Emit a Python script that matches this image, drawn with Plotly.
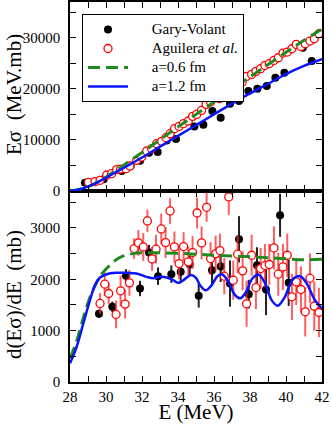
import plotly.graph_objects as go

# ---- top panel: E*sigma (MeV.mb) ----
gv_e = [28.83, 29.87, 30.87, 31.37, 31.89, 32.39, 32.87, 33.37, 33.89, 34.91, 35.41,
        35.91, 36.37, 36.89, 37.39, 37.91, 38.41, 38.93, 39.41, 39.91, 40.93, 41.43]
gv_esig = [1630, 2280, 3910, 4890, 5940, 7500, 7630, 9900, 10180, 12650, 12980,
           15660, 14350, 17090, 17610, 19570, 20030, 20550, 22180, 23160, 28050, 25440]

ag_e = [29.02, 29.39, 29.67, 30.04, 30.31, 30.59, 30.81, 31.11, 31.33, 31.70, 31.98,
        32.26, 32.54, 32.81, 33.09, 33.33, 33.56, 33.80, 34.06, 34.30, 34.57, 34.81,
        35.04, 35.31, 35.56, 35.81, 36.06, 36.30, 36.56, 36.80, 37.07, 37.31, 37.57,
        37.81, 38.09, 38.33, 38.59, 38.83, 39.07, 39.33, 39.57, 39.83, 40.07, 40.33,
        40.57, 40.83, 41.07, 41.33, 41.57, 41.83]
ag_esig = [1700, 1830, 2090, 3130, 3390, 4180, 4300, 4370, 4890, 6000, 6650,
           7830, 8280, 9260, 9720, 10440, 11220, 12200, 12650, 13180, 13700, 14610,
           15000, 15790, 16960, 17420, 18390, 18070, 19370, 20220, 20480, 21660, 21330,
           22440, 22830, 23420, 23940, 24590, 24920, 25570, 26090, 27000, 27200, 27850,
           28700, 28310, 28830, 29350, 29810, 30790]

curve_e = [28, 28.5, 29, 29.5, 30, 30.5, 31, 32, 33, 34, 35, 36, 37, 38, 39, 40, 41, 42]
a06_esig = [0, 300, 850, 1700, 2750, 3900, 5100, 7550, 10050, 12550, 15000, 17450,
            19900, 22350, 24750, 27150, 29500, 31700]
a12_esig = [0, 300, 850, 1650, 2600, 3600, 4550, 6550, 8700, 10800, 12900, 15000,
            17100, 19100, 21000, 22900, 24500, 25800]

# ---- bottom panel: d(E sigma)/dE (mb) ----
gvd_e = [29.61, 30.35, 31.11, 31.89, 32.39, 32.89, 33.63, 34.15, 34.65, 35.15, 35.89,
         36.37, 36.89, 37.39, 37.93, 38.39, 38.89, 39.67, 40.15]
gvd = [1329, 1465, 2067, 1821, 2521, 2061, 2100, 2145, 2294, 1679, 2178,
       2249, 1918, 2780, 1711, 2275, 1802, 3247, 1931]
gvd_err = [80, 100, 130, 150, 150, 170, 170, 200, 220, 230, 270,
           300, 450, 450, 280, 350, 500, 420, 450]

agd_e = [29.67, 29.93, 30.15, 30.56, 30.81, 31.06, 31.30, 31.56, 31.80, 32.07, 32.30,
         32.56, 32.78, 33.07, 33.31, 33.56, 33.80, 34.06, 34.31, 34.57, 34.81, 35.06,
         35.31, 35.59, 35.81, 36.09, 36.33, 36.57, 36.82, 37.07, 37.31, 37.59, 37.81,
         38.09, 38.33, 38.59, 38.83, 39.07, 39.33, 39.57, 39.83, 40.07, 40.33, 40.57,
         40.83, 41.07, 41.33, 41.57, 41.83]
agd = [1530, 1905, 1724, 1316, 1776, 1517, 1931, 2599, 2709, 2631, 3137,
       2398, 2586, 2981, 2715, 3331, 2631, 2307, 2638, 2340, 2521, 3292,
       2709, 3402, 2404, 2501, 2560, 2061, 3605, 1983, 2489, 2165, 1523,
       2469, 1840, 2210, 2268, 2288, 2612, 2100, 2242, 2469, 1659, 1951,
       1802, 1367, 2022, 1478, 1354]
agd_err = [200, 230, 200, 270, 300, 280, 250, 200, 250, 270, 220,
           230, 280, 300, 300, 250, 300, 300, 280, 300, 320, 300,
           320, 280, 320, 350, 330, 350, 350, 380, 370, 380, 450,
           400, 420, 400, 420, 400, 420, 420, 450, 420, 450, 450,
           450, 480, 480, 480, 480]

a06d_e = [28.0, 28.37, 28.74, 29.11, 29.5, 29.8, 30.2, 30.6, 31.0, 31.5, 32, 33, 34,
          35, 36, 37, 38, 39, 40, 41, 42]
a06d = [460, 800, 1250, 1650, 1950, 2120, 2270, 2390, 2460, 2500, 2515, 2515, 2505,
        2490, 2470, 2455, 2440, 2420, 2400, 2380, 2390]

a12d_e = [28.0, 28.37, 28.74, 29.11, 29.39, 29.67, 30.04, 30.59, 31.15, 31.70, 32.26,
          32.63, 33.0, 33.37, 33.74, 34.02, 34.30, 34.72, 35.0, 35.22, 35.54, 35.87,
          36.19, 36.46, 36.80, 37.17, 37.46, 37.78, 38.13, 38.46, 38.83, 39.20, 39.54,
          39.94, 40.37, 40.78, 41.15, 41.61, 42.0]
a12d = [363, 687, 1141, 1594, 1886, 2035, 2100, 2126, 2126, 2113, 2048,
        2022, 2048, 2035, 1983, 1931, 1983, 2085, 2030, 1886, 1785, 1886,
        2061, 2095, 1951, 1692, 1630, 1756, 2015, 2095, 1931, 1594, 1485,
        1659, 1996, 2060, 1918, 1594, 1432]

SERIF = "Liberation Serif, Times New Roman, serif"
RED = "#ff0000"
GREEN = "#1f8a1f"
BLUE = "#0a14ff"


def leg(text):
    # legend rows are spaced by legend.font.size, so keep that small and size the text here
    return ('<span style="font-family:Liberation Serif;font-size:15px">'
            + "\u00a0" * 5 + text + "</span>")


fig = go.Figure()

# top panel
fig.add_trace(go.Scatter(x=gv_e, y=gv_esig, mode="markers", name=leg("Gary-Volant"),
                         marker=dict(color="black", size=8), xaxis="x2", yaxis="y2"))
fig.add_trace(go.Scatter(x=ag_e, y=ag_esig, mode="markers",
                         name=leg("Aguilera <i>et al.</i>"),
                         marker=dict(color="white", size=8, line=dict(color=RED, width=1.3)),
                         xaxis="x2", yaxis="y2"))
fig.add_trace(go.Scatter(x=curve_e, y=a06_esig, mode="lines", name=leg("a=0.6 fm"),
                         line=dict(color=GREEN, width=3, dash="12px,6px", shape="spline"),
                         xaxis="x2", yaxis="y2"))
fig.add_trace(go.Scatter(x=curve_e, y=a12_esig, mode="lines", name=leg("a=1.2 fm"),
                         line=dict(color=BLUE, width=2.5, shape="spline"),
                         xaxis="x2", yaxis="y2"))

# bottom panel
fig.add_trace(go.Scatter(x=gvd_e, y=gvd, mode="markers", showlegend=False,
                         marker=dict(color="black", size=8),
                         error_y=dict(type="data", array=gvd_err, color="#222222",
                                      thickness=2, width=0)))
fig.add_trace(go.Scatter(x=agd_e, y=agd, mode="markers", showlegend=False,
                         marker=dict(color="white", size=8, line=dict(color=RED, width=1.3)),
                         error_y=dict(type="data", array=agd_err, color="rgba(255,40,40,0.75)",
                                      thickness=2, width=0)))
fig.add_trace(go.Scatter(x=a06d_e, y=a06d, mode="lines", showlegend=False,
                         line=dict(color=GREEN, width=3, dash="12px,6px", shape="spline")))
fig.add_trace(go.Scatter(x=a12d_e, y=a12d, mode="lines", showlegend=False,
                         line=dict(color=BLUE, width=2.5, shape="spline")))

split = (382 - 191) / 380

axis_common = dict(showline=True, linecolor="black", linewidth=1.5, mirror="ticks",
                   ticks="inside", ticklen=6, tickwidth=1.2, tickcolor="black",
                   showgrid=False, zeroline=False, automargin=False, tickformat="d",
                   tickfont=dict(family=SERIF, size=15, color="black"))

fig.update_layout(
    width=332, height=424,
    margin=dict(l=70, r=10, t=2, b=42),
    plot_bgcolor="white", paper_bgcolor="white",
    font=dict(family=SERIF, color="black"),
    xaxis=dict(axis_common, range=[28, 42], dtick=2, tick0=28, anchor="y",
               domain=[0, 1],
               minor=dict(dtick=1, ticks="inside", ticklen=6, tickcolor="black"),
               title=dict(text="E (MeV)", font=dict(size=21), standoff=1)),
    xaxis2=dict(axis_common, range=[28, 42], dtick=2, tick0=28, anchor="y2",
                matches="x", showticklabels=False,
                minor=dict(dtick=1, ticks="inside", ticklen=6, tickcolor="black")),
    yaxis=dict(axis_common, range=[0, 3720], dtick=1000, tick0=0, domain=[0, split],
               ticklabelstandoff=5,
               minor=dict(dtick=500, ticks="inside", ticklen=6, tickcolor="black")),
    yaxis2=dict(axis_common, range=[0, 37000], dtick=10000, tick0=0, domain=[split, 1],
                ticklabelstandoff=5,
                minor=dict(dtick=5000, ticks="inside", ticklen=6, tickcolor="black")),
    legend=dict(x=(82 - 70) / 252, y=(382 - 14) / 380, xanchor="left", yanchor="top",
                bgcolor="white", bordercolor="black", borderwidth=1,
                font=dict(family=SERIF, size=11), itemwidth=40, tracegroupgap=0),
    annotations=[
        dict(text="E\u03c3\u00a0\u00a0(MeV.mb)", xref="paper", yref="paper",
             x=(14 - 70) / 252, y=(382 - 95) / 380, textangle=-90,
             showarrow=False, xanchor="center", yanchor="middle",
             font=dict(family=SERIF, size=21)),
        dict(text="d(E\u03c3)/dE\u00a0\u00a0(mb)", xref="paper", yref="paper",
             x=(14 - 70) / 252, y=(382 - 295) / 380, textangle=-90,
             showarrow=False, xanchor="center", yanchor="middle",
             font=dict(family=SERIF, size=21)),
    ],
)

# the page body has a default 8px margin; remove it so the figure sits at the corner
fig.write_html("out.html", config={"displayModeBar": False},
               post_script="document.body.style.margin='0px';")
